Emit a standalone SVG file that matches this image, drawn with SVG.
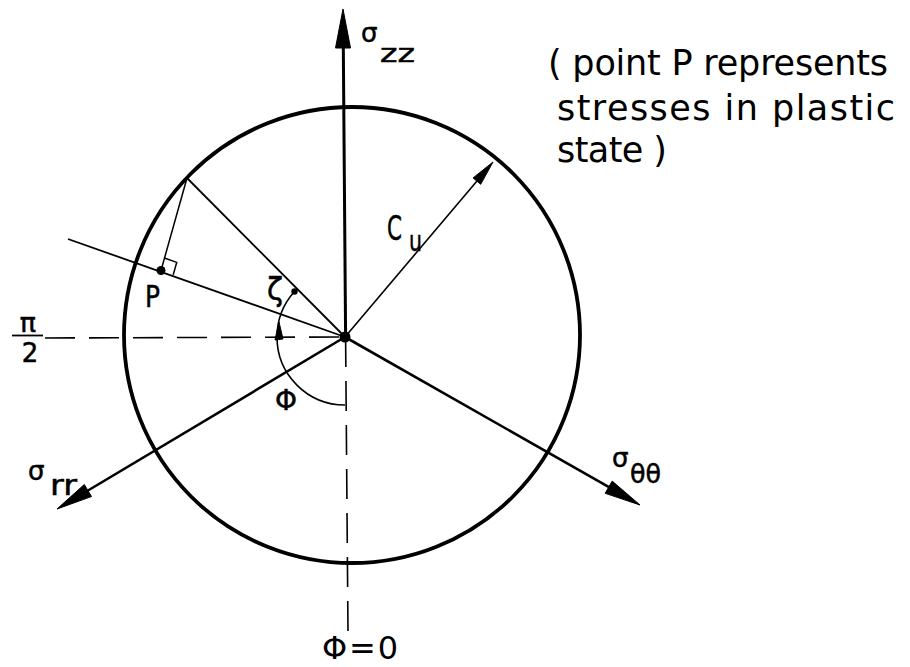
<svg xmlns="http://www.w3.org/2000/svg" width="910" height="667" viewBox="0 0 910 667">
<style>
.t{font-family:"DejaVu Sans","Liberation Sans",sans-serif;fill:#000}
.b{stroke:#000;stroke-width:0.5}
.ln{stroke:#000;fill:none;stroke-linecap:butt}
.ah{fill:#000;stroke:#000;stroke-width:1;stroke-linejoin:round}
.dash{stroke:#000;stroke-width:1.6;stroke-dasharray:30 14;fill:none}
</style>
<rect width="910" height="667" fill="#fff"/>
<g id="yield-circle">
<circle cx="352" cy="335" r="228" fill="none" stroke="#000" stroke-width="3.8"/>
</g>
<g id="connectors">
<line class="dash" x1="45" y1="338" x2="345" y2="337"/>
<line class="dash" x1="345.6" y1="337" x2="348" y2="632"/>
<line class="ln" x1="343.3" y1="46" x2="345.6" y2="337" stroke-width="3"/>
<line class="ln" x1="345" y1="337" x2="88" y2="490.5" stroke-width="2.6"/>
<line class="ln" x1="345" y1="337" x2="609" y2="487.2" stroke-width="2.6"/>
<line class="ln" x1="345" y1="337" x2="477" y2="181" stroke-width="1.6"/>
<line class="ln" x1="187" y1="178" x2="345" y2="337" stroke-width="1.8"/>
<line class="ln" x1="68" y1="239" x2="345" y2="337" stroke-width="1.8"/>
<line class="ln" x1="187" y1="178" x2="161" y2="270.5" stroke-width="1.5"/>
<polyline class="ln" points="164.5,258 176.7,262.4 173.2,274.9" stroke-width="1.5"/>
<path class="ln" d="M345,405 A68,68 0 0,1 277,337 A68,68 0 0,1 294.5,291.5" stroke-width="1.6"/>
<polygon class="ah" points="343,9 335.5,48 350.5,48"/>
<polygon class="ah" points="57,509 91.5,496.5 84.3,484.5"/>
<polygon class="ah" points="640,505 605.2,493.3 612.2,481.1"/>
<polygon class="ah" points="493,162 480.7,184.3 473.1,177.9"/>
<polygon class="ah" points="279,322 275,340 283,339"/>
<circle cx="345" cy="337" r="5.5" fill="#000"/>
<circle cx="161" cy="270.5" r="4.5" fill="#000"/>
<circle cx="294.5" cy="291.5" r="3.2" fill="#000"/>
<line class="ln" x1="12" y1="335.5" x2="43" y2="335.5" stroke-width="1.8"/>
</g>
<g id="labels">
<text class="t b" x="361" y="42" font-size="26">σ</text>
<text class="t b" x="380" y="62" font-size="25" textLength="35" lengthAdjust="spacingAndGlyphs">zz</text>
<text class="t b" x="28" y="480" font-size="26">σ</text>
<text class="t b" x="50" y="495" font-size="28" textLength="27" lengthAdjust="spacingAndGlyphs">rr</text>
<text class="t b" x="612" y="467" font-size="26">σ</text>
<text class="t b" x="630" y="483" font-size="27" textLength="31" lengthAdjust="spacingAndGlyphs">θθ</text>
<text class="t b" x="387" y="240" font-size="34" textLength="15" lengthAdjust="spacingAndGlyphs">C</text>
<text class="t b" x="409" y="251" font-size="28" textLength="13" lengthAdjust="spacingAndGlyphs">u</text>
<text class="t b" x="145" y="307" font-size="30" textLength="15" lengthAdjust="spacingAndGlyphs">P</text>
<text class="t b" x="267" y="300" font-size="32" textLength="16" lengthAdjust="spacingAndGlyphs">ζ</text>
<text class="t b" x="275" y="410" font-size="28" textLength="22" lengthAdjust="spacingAndGlyphs">Φ</text>
<text class="t b" x="28" y="332" font-size="27" text-anchor="middle">π</text>
<text class="t b" x="30" y="362" font-size="26" text-anchor="middle">2</text>
<text class="t" x="322" y="659" font-size="32" textLength="76" lengthAdjust="spacing">Φ = 0</text>
<text class="t" x="548" y="75" font-size="35" textLength="340" lengthAdjust="spacing">( point P represents</text>
<text class="t" x="557" y="120" font-size="35" textLength="338" lengthAdjust="spacing">stresses in plastic</text>
<text class="t" x="557" y="162" font-size="35" textLength="110" lengthAdjust="spacing">state )</text>
</g>
</svg>
